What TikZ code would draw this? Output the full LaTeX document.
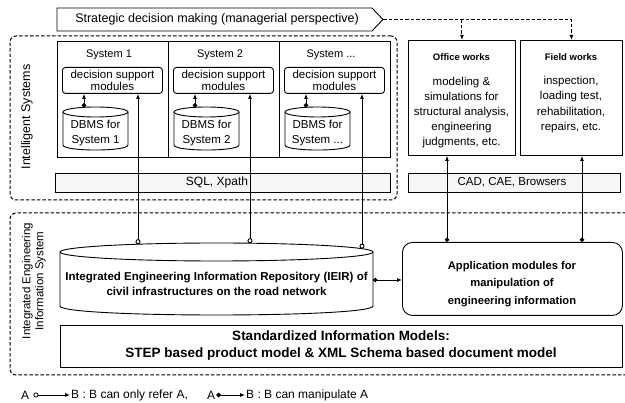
\documentclass[tikz,border=0pt]{standalone}
\usepackage{fontspec}
\setmainfont{Liberation Sans}
\usetikzlibrary{arrows.meta}
\newcommand{\fs}[2]{\fontsize{#1}{#2}\selectfont}
\newcommand{\sysdots}{...}
\begin{document}
\begin{tikzpicture}[x=1pt,y=-1pt,
  box/.style={draw, line width=0.9pt, inner sep=0pt},
  dashline/.style={draw, line width=1pt, dash pattern=on 3.5pt off 2pt},
  txt/.style={align=center, inner sep=0pt},
  dotarrow/.style={line width=0.9pt, {Circle[length=4.5pt]}-{Latex[length=5pt,width=4pt]}},
  openarrow/.style={line width=0.9pt, {Circle[open,length=5pt]}-{Latex[length=5pt,width=4pt]}},
  dasharrow/.style={dashline, -{Latex[length=5pt,width=4pt]}},
  bar/.style={box, fill=gray!7, anchor=north west}
]
\useasboundingbox (0,0) rectangle (625,403);

% Strategic decision making
\draw[box] (57,8) -- (372,8) -- (383,19.5) -- (372,31) -- (57,31) -- cycle;
\node[txt, font=\fs{12.5}{14}] (strat) at (217,19.5) {Strategic decision making (managerial perspective)};
\coordinate (stip) at (383,19.5);

% Intelligent systems frame
\node[draw, line width=1pt, dash pattern=on 3.5pt off 2pt, rounded corners=6pt,
  minimum width=387, minimum height=164, inner sep=0pt] (isys) at (203.5,118) {};
\node[rotate=90, font=\fs{12.5}{14}, inner sep=0pt] (isyslbl) at (27,117) {Intelligent Systems};

% Systems
\foreach \l/\n/\m in {57/1/s1, 168/2/s2, 279/\sysdots/s3} {
  \node[box, minimum width=111, minimum height=116, anchor=north west] (sys\m) at (\l,41) {};
  \node[txt, font=\fs{11}{13}] (syslbl\m) at (\l+52,55) {System \n};
  \node[box, rounded corners=3pt, minimum width=100, minimum height=26, anchor=north west, txt, font=\fs{11.5}{12}]
     (ds\m) at (\l+5,67) {decision support\\modules};
  \draw[box] (\l+6,112) -- (\l+6,145) .. controls (\l+6,151.7) and (\l+71,151.7) .. (\l+71,145) -- (\l+71,112);
  \draw[box] (\l+38.5,112) ellipse [x radius=32.5, y radius=5];
  \node[txt, font=\fs{11.5}{15}] (db\m) at (\l+38.5,133) {DBMS for\\System \n};
  \coordinate (dbtop\m) at (\l+27,107.6);
  \draw[dotarrow] (dbtop\m) -- (dbtop\m |- ds\m.south);
}

% SQL bar
\node[bar, minimum width=335, minimum height=19] (sql) at (55,173) {};
\node[txt, font=\fs{12}{14}] (sqltxt) at (217,182.5) {SQL, Xpath};

% Office and Field works
\node[box, minimum width=107, minimum height=115, anchor=north west] (office) at (408,40) {};
\node[txt, font=\fs{9.5}{12}\bfseries] (officet) at (461.5,57) {Office works};
\node[txt, font=\fs{11.5}{15.2}] (officeb) at (461.5,112.5) {modeling \&\\simulations for\\structural analysis,\\engineering\\judgments, etc.};
\node[box, minimum width=102, minimum height=115, anchor=north west] (field) at (520,40) {};
\node[txt, font=\fs{9.5}{12}\bfseries] (fieldt) at (571,57) {Field works};
\node[txt, font=\fs{11.5}{15.2}] (fieldb) at (571,104.5) {inspection,\\loading test,\\rehabilitation,\\repairs, etc.};

% CAD bar
\node[bar, minimum width=212, minimum height=19] (cad) at (408,173) {};
\node[txt, font=\fs{11.5}{14}] (cadtxt) at (512,182.5) {CAD, CAE, Browsers};

% strategic dashed arrows
\draw[dasharrow] (stip) -| (field.north);
\draw[dasharrow] (office.north |- stip) -- (office.north);

% Integrated Engineering Information System frame
\draw[dashline, rounded corners=6pt] (626,213) -- (10,213) -- (10,375) -- (626,375);
\node[rotate=90, align=center, font=\fs{11.5}{13}, inner sep=0pt] (ieislbl) at (34,281) {Integrated Engineering\\Information System};

% IEIR cylinder
\draw[box, fill=white] (60,252) -- (60,306) .. controls (60,318) and (373,318) .. (373,306) -- (373,252);
\draw[box] (216.5,252) ellipse [x radius=156.5, y radius=9];
\node[txt, font=\fs{11.5}{15}\bfseries] (ieir) at (216.5,283.5) {Integrated Engineering Information Repository (IEIR) of\\civil infrastructures on the road network};
\coordinate (ieirA) at (138,244.2);
\coordinate (ieirB) at (250,243.2);
\coordinate (ieirC) at (362,248.6);
\coordinate (ieirR) at (373,280);

% Application modules
\node[box, rounded corners=10pt, minimum width=220, minimum height=73, anchor=north west] (app) at (402,242) {};
\node[txt, font=\fs{11.2}{17.5}\bfseries] (apptxt) at (512,284) {Application modules for\\manipulation of\\engineering information};

% Standardized information models
\node[box, minimum width=562, minimum height=42, anchor=north west] (std) at (60,325) {};
\node[txt, font=\fs{13.5}{17}\bfseries] (stdtxt) at (341,346) {Standardized Information Models:\\STEP based product model \& XML Schema based document model};

% connectors IEIR -> decision support modules
\draw[openarrow] (ieirA) -- (ieirA |- dss1.south);
\draw[openarrow] (ieirB) -- (ieirB |- dss2.south);
\draw[openarrow] (ieirC) -- (ieirC |- dss3.south);
% IEIR -> app
\draw[dotarrow] (ieirR) -- (ieirR -| app.west);
% app -> office/field
\coordinate (appA) at (447,242);
\coordinate (appB) at (582,242);
\draw[dotarrow] (appA) -- (appA |- office.south);
\draw[dotarrow] (appB) -- (appB |- field.south);

% legend
\node[anchor=west, inner sep=1pt, font=\fs{12}{14}] (la1) at (20,395) {A};
\node[anchor=west, inner sep=1pt, font=\fs{12}{14}] (lb1) at (70,395) {B : B can only refer A,};
\node[anchor=west, inner sep=1pt, font=\fs{12}{14}] (la2) at (206,395) {A};
\node[anchor=west, inner sep=1pt, font=\fs{12}{14}] (lb2) at (245,395) {B : B can manipulate A};
\draw[openarrow, line width=0.8pt, shorten <=3pt] (la1.east) -- (lb1.west);
\draw[dotarrow, line width=0.8pt] (la2.east) -- (lb2.west);
\end{tikzpicture}
\end{document}
